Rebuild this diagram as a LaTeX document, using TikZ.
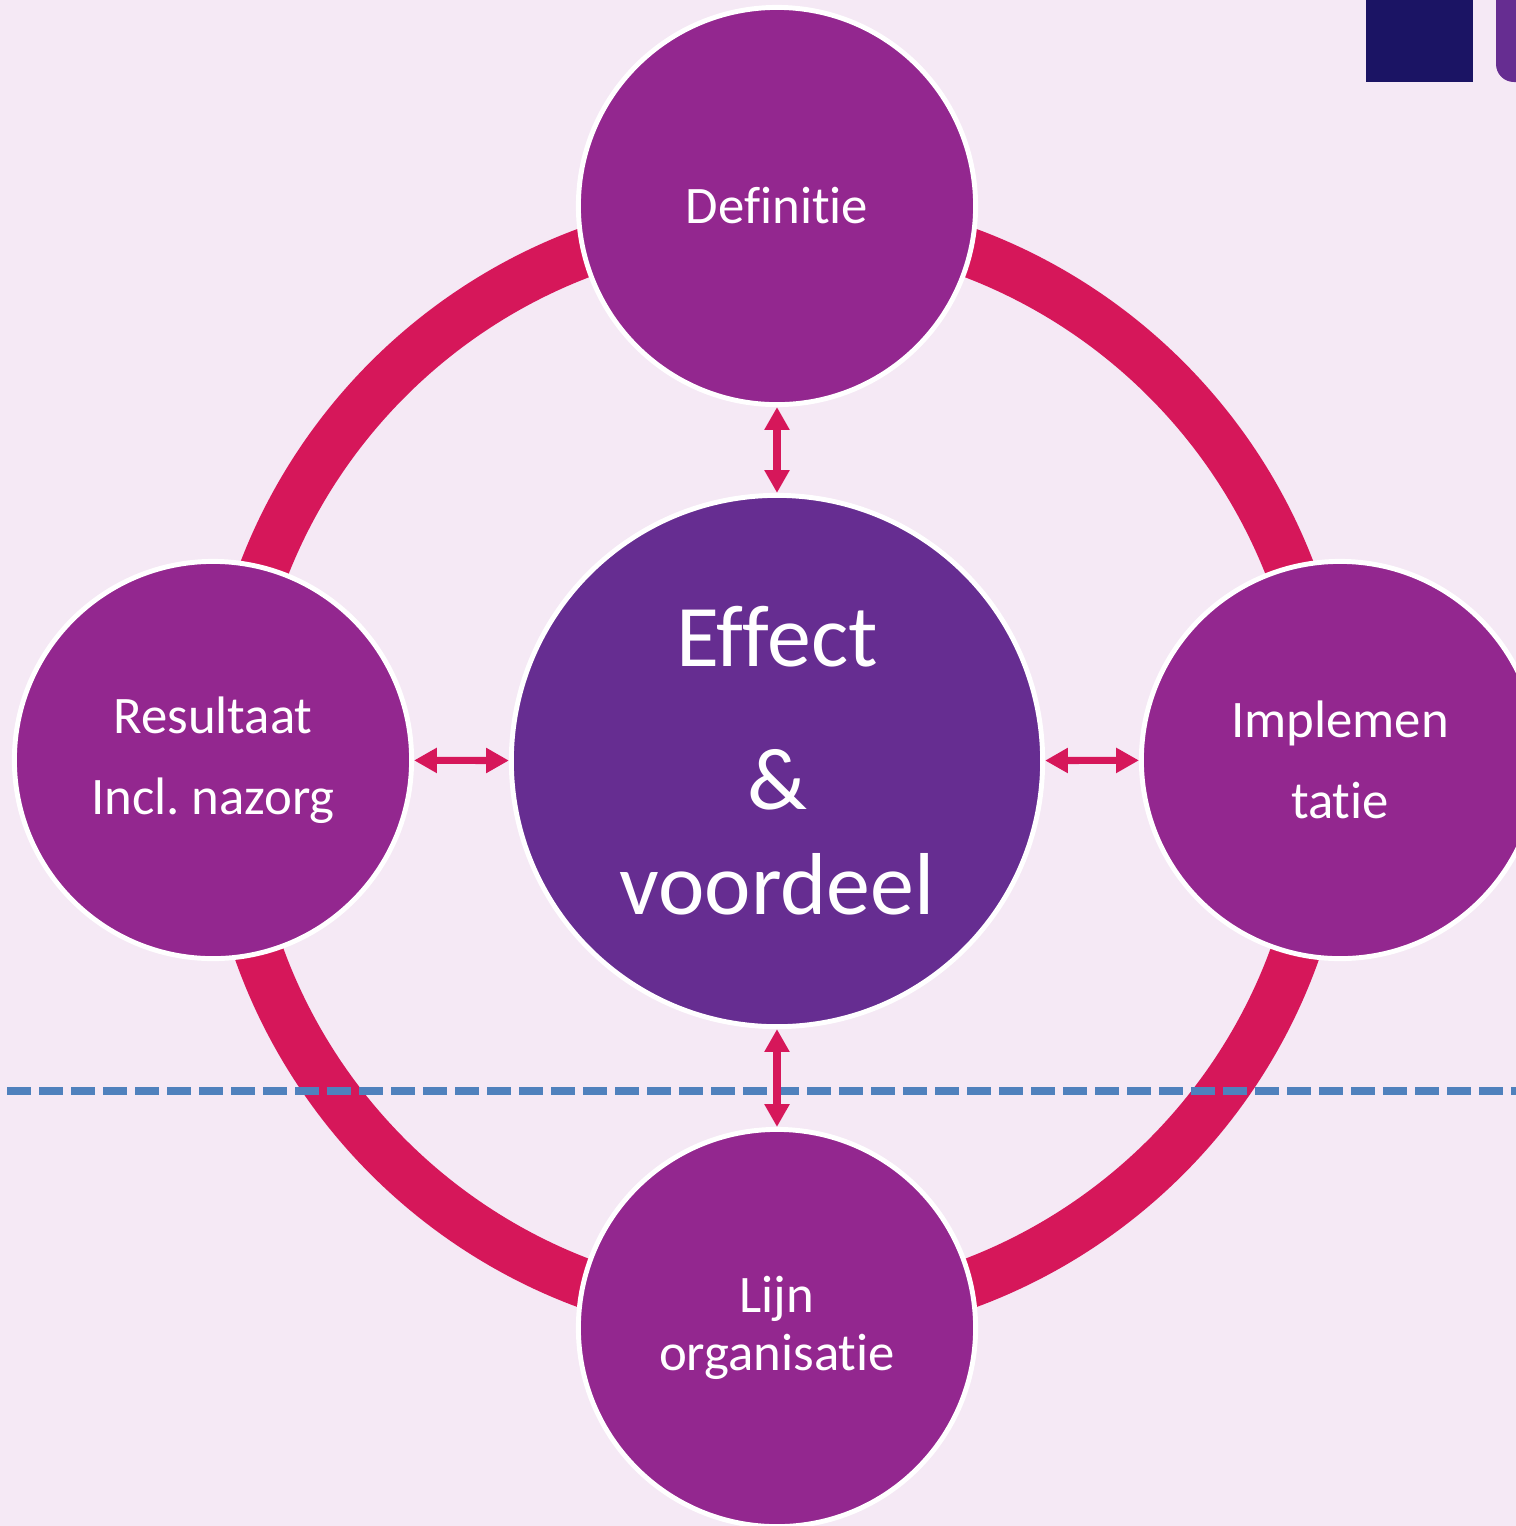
\documentclass[tikz,border=0pt]{standalone}
\usepackage{fontspec}
\setmainfont{Carlito}[Ligatures=NoCommon]
\usepackage{xcolor}
\usepackage{tikz}
\usetikzlibrary{arrows.meta}

\definecolor{bgpink}{HTML}{F5E9F5}
\definecolor{phasepurple}{HTML}{93278F}
\definecolor{corepurple}{HTML}{662D91}
\definecolor{ringred}{HTML}{D6175A}
\definecolor{lineblue}{HTML}{4F81BD}
\definecolor{navyblock}{HTML}{1B1464}

\tikzset{
  phase/.style={circle, fill=phasepurple, draw=white, line width=1.4pt, minimum size=3.97cm,
    inner sep=0pt, text=white, align=center, font=\fontsize{15}{16.5}\selectfont},
  core/.style={phase, fill=corepurple, minimum size=5.31cm, font=\fontsize{25}{30}\selectfont},
  biarrow/.style={{Triangle[width=6.8pt,length=6.5pt]}-{Triangle[width=6.8pt,length=6.5pt]},
    draw=ringred, line width=2pt},
  ringline/.style={draw=ringred, line width=14pt},
  divider/.style={draw=lineblue, line width=2.3pt, dash pattern=on 6.8pt off 2.3pt}
}

\begin{document}
\begin{tikzpicture}[x=0.01cm, y=-0.01cm]
                \path[use as bounding box, clip] (0,0) rectangle (1516,1526);
                \fill[bgpink] (0,0) rectangle (1516,1526);
                \fill[navyblock] (1366,0) rectangle (1473,82);
                \fill[corepurple] (1496,0) [rounded corners=5.1pt] -- (1496,82) [sharp corners] -- (1530,82) -- (1530,0) -- cycle;
                \draw[ringline] (777,768) circle (550);
                \draw[divider] (7,1091) -- (1516,1091);
                \node[phase] (defn) at (777,206) {Definitie};
                \node[phase] (result) at (213,760) {Resultaat\\[6.5pt]Incl.\ nazorg};
                \node[phase] (impl) at (1340,760) {Implemen\\[6.5pt]tatie};
                \node[phase] (lijn) at (777,1328) {Lijn\\organisatie};
                \node[core] (core) at (777,761) {Effect\\[10.5pt]\&\\voordeel};
                \foreach \n in {defn,result,impl,lijn}
                \draw[biarrow] (\n) -- (core);
            \end{tikzpicture}
\end{document}
